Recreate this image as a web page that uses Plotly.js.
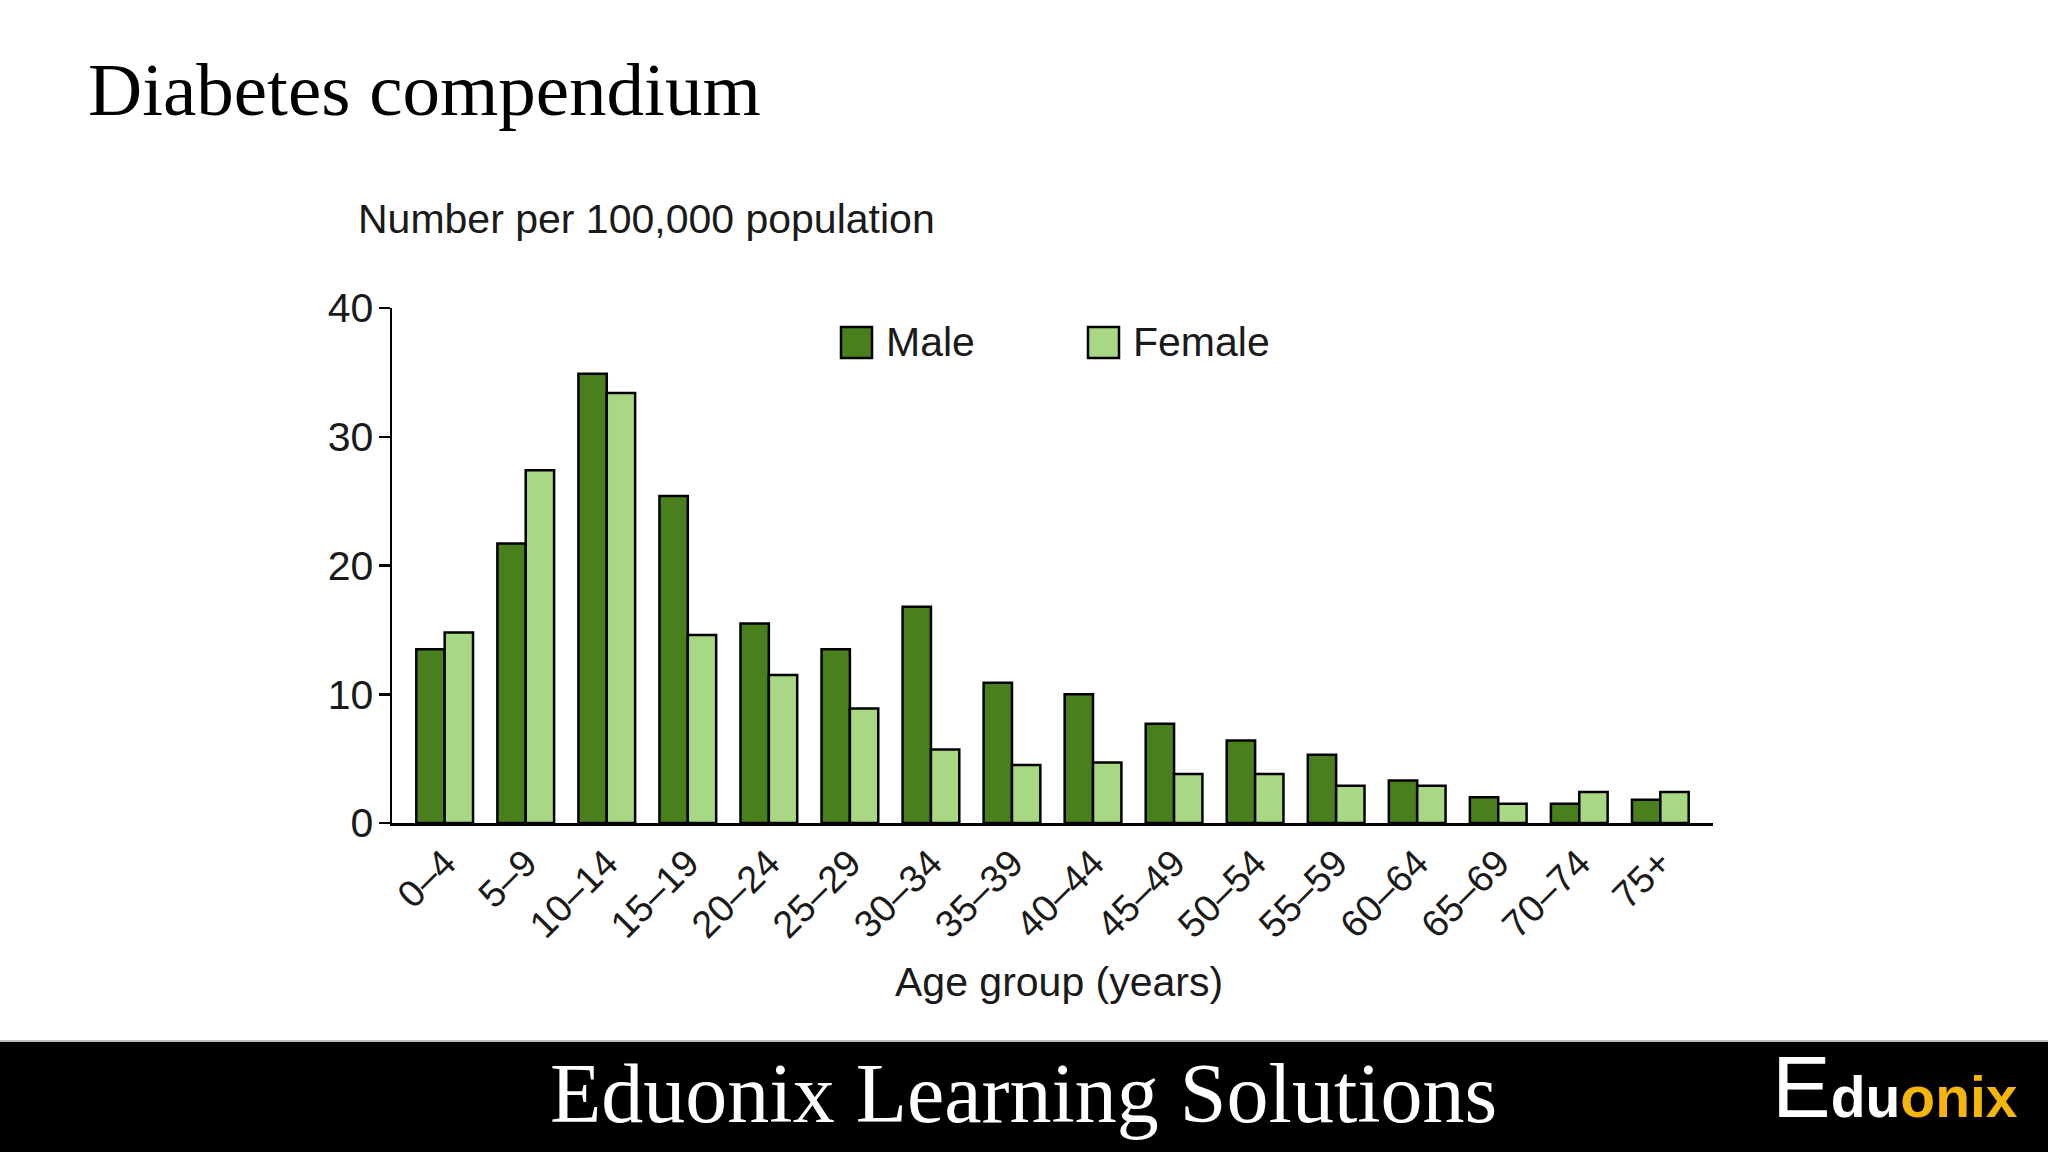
<!DOCTYPE html>
<html>
<head>
<meta charset="utf-8">
<script src="https://cdn.plot.ly/plotly-3.0.1.min.js"></script>
<style>
  html, body { margin: 0; padding: 0; background: #ffffff; }
  #chart { width: 2048px; height: 1152px; }
</style>
</head>
<body>
<div id="chart"></div>
<script>
// ---- Data ----
const ageGroups = ['0–4', '5–9', '10–14', '15–19', '20–24', '25–29', '30–34', '35–39',
                   '40–44', '45–49', '50–54', '55–59', '60–64', '65–69', '70–74', '75+'];
const maleRates   = [13.5, 21.7, 34.9, 25.4, 15.5, 13.5, 16.8, 10.9, 10.0, 7.7, 6.4, 5.3, 3.3, 2.0, 1.5, 1.8];
const femaleRates = [14.8, 27.4, 33.4, 14.6, 11.5, 8.9, 5.7, 4.5, 4.7, 3.8, 3.8, 2.9, 2.9, 1.5, 2.4, 2.4];
const yTickValues = [0, 10, 20, 30, 40];
const seriesNames = ['Male', 'Female'];

// ---- Styling ----
const MALE_COLOR = '#4a7f1e';
const FEMALE_COLOR = '#a9d884';
const SANS = '"Liberation Sans", Arial, sans-serif';
const SERIF = '"Liberation Serif", "Times New Roman", serif';

// Plot area in page pixels
const L = 392, R = 1713, T = 308, B = 823;
const W = 2048, H = 1152;
const px = x => (x - L) / (R - L);
const py = y => (B - y) / (B - T);

const traces = [
  {
    type: 'bar', name: seriesNames[0], x: ageGroups, y: maleRates,
    marker: { color: MALE_COLOR, line: { color: '#000000', width: 2.5 } },
    hoverinfo: 'x+y+name'
  },
  {
    type: 'bar', name: seriesNames[1], x: ageGroups, y: femaleRates,
    marker: { color: FEMALE_COLOR, line: { color: '#000000', width: 2.5 } },
    hoverinfo: 'x+y+name'
  }
];

const layout = {
  width: W, height: H,
  margin: { l: L, r: W - R, t: T, b: H - B, pad: 0 },
  paper_bgcolor: '#ffffff',
  plot_bgcolor: '#ffffff',
  barmode: 'group',
  bargap: 0.3,
  bargroupgap: 0,
  showlegend: false,
  font: { family: SANS, size: 41, color: '#1a1a1a' },
  xaxis: {
    type: 'category',
    range: [-0.65, 15.65],
    showline: true, linecolor: '#000000', linewidth: 2.5,
    ticks: '', showgrid: false, zeroline: false,
    tickangle: -45,
    tickfont: { family: SANS, size: 38, color: '#1a1a1a' }
  },
  yaxis: {
    range: [0, 40],
    tickvals: yTickValues,
    ticktext: yTickValues.map(String),
    ticks: 'outside', ticklen: 11, tickwidth: 2.5, tickcolor: '#000000',
    ticklabelstandoff: -3,
    showline: true, linecolor: '#000000', linewidth: 2.5,
    showgrid: false, zeroline: false,
    tickfont: { family: SANS, size: 41, color: '#1a1a1a' }
  },
  shapes: [
    // footer band
    { type: 'rect', xref: 'paper', yref: 'paper', layer: 'below',
      x0: px(0), x1: px(W), y0: py(H), y1: py(1041),
      fillcolor: '#000000', line: { width: 0 } },
    { type: 'line', xref: 'paper', yref: 'paper',
      x0: px(0), x1: px(W), y0: py(1041), y1: py(1041),
      line: { color: '#bdbdbd', width: 2 } },
    // legend swatches
    { type: 'rect', xref: 'paper', yref: 'paper',
      x0: px(841), x1: px(872), y0: py(358), y1: py(327),
      fillcolor: MALE_COLOR, line: { color: '#000000', width: 2.5 } },
    { type: 'rect', xref: 'paper', yref: 'paper',
      x0: px(1088), x1: px(1119), y0: py(358), y1: py(327),
      fillcolor: FEMALE_COLOR, line: { color: '#000000', width: 2.5 } }
  ],
  annotations: [
    { text: 'Diabetes compendium', xref: 'paper', yref: 'paper',
      x: px(86), y: py(90), xanchor: 'left', yanchor: 'middle', showarrow: false,
      font: { family: SERIF, size: 75, color: '#000000' } },
    { text: 'Number per 100,000 population', xref: 'paper', yref: 'paper',
      x: px(356), y: py(219), xanchor: 'left', yanchor: 'middle', showarrow: false,
      font: { family: SANS, size: 41, color: '#1a1a1a' } },
    { text: 'Age group (years)', xref: 'paper', yref: 'paper',
      x: px(1059), y: py(982), xanchor: 'center', yanchor: 'middle', showarrow: false,
      font: { family: SANS, size: 41, color: '#1a1a1a' } },
    { text: seriesNames[0], xref: 'paper', yref: 'paper',
      x: px(884), y: py(342), xanchor: 'left', yanchor: 'middle', showarrow: false,
      font: { family: SANS, size: 41, color: '#1a1a1a' } },
    { text: seriesNames[1], xref: 'paper', yref: 'paper',
      x: px(1131), y: py(342), xanchor: 'left', yanchor: 'middle', showarrow: false,
      font: { family: SANS, size: 41, color: '#1a1a1a' } },
    { text: 'Eduonix Learning Solutions', xref: 'paper', yref: 'paper',
      x: px(1023), y: py(1093), xanchor: 'center', yanchor: 'middle', showarrow: false,
      font: { family: SERIF, size: 84, color: '#ffffff' } },
    { text: '<span style="font-family:\'Liberation Sans Narrow\',\'Liberation Sans\';font-size:88px;font-weight:normal">E</span>du<span style="color:#f5b50a">onix</span>',
      xref: 'paper', yref: 'paper',
      x: px(2020), y: py(1138), xanchor: 'right', yanchor: 'bottom', showarrow: false,
      font: { family: SANS, size: 57, color: '#ffffff', weight: 'bold' } }
  ]
};

Plotly.newPlot('chart', traces, layout, { displayModeBar: false, staticPlot: true });
</script>
</body>
</html>
